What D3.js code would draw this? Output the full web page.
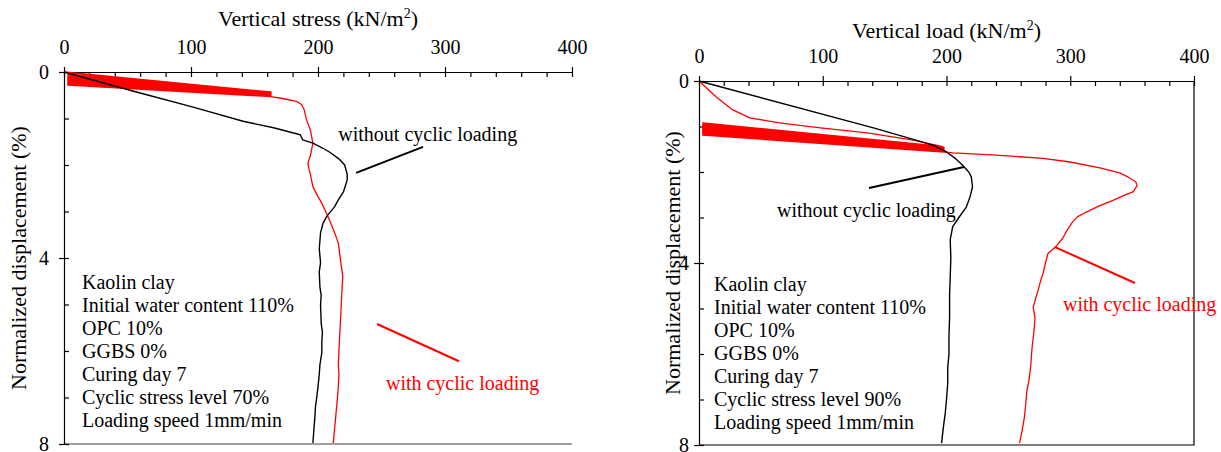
<!DOCTYPE html>
<html>
<head>
<meta charset="utf-8">
<script src="https://cdn.jsdelivr.net/npm/d3@7"></script>
<style>
    body { margin: 0; background: #fff; }
    svg text { font-family: "Liberation Serif", "Times New Roman", serif; font-size: 20px; fill: #000; }
    svg text.axis-title { font-size: 22px; }
</style>
</head>
<body>
<svg id="chart" width="1221" height="452"></svg>
<script>
// Axis ticks (shared by both panels)
const xMajor = [0, 100, 200, 300, 400];
const xMinor = [0, 20, 40, 60, 80, 100, 120, 140, 160, 180, 200, 220, 240, 260, 280, 300, 320, 340, 360, 380, 400];
const yMajor = [0, 4, 8];
const yMinor = [0, 1, 2, 3, 4, 5, 6, 7, 8];

const notesLeft = ["Kaolin clay", "Initial water content 110%", "OPC 10%", "GGBS 0%",
    "Curing day 7", "Cyclic stress level 70%", "Loading speed 1mm/min"];
const notesRight = ["Kaolin clay", "Initial water content 110%", "OPC 10%", "GGBS 0%",
    "Curing day 7", "Cyclic stress level 90%", "Loading speed 1mm/min"];

// Left panel: [stress, displacement]
const leftWithout = [[0, 0], [20, 0.15], [57, 0.43], [101, 0.75], [141, 1.06], [165, 1.2], [186, 1.35],
    [188, 1.46], [196, 1.53], [204, 1.64], [209, 1.72], [217, 1.88], [221, 2.0], [223, 2.2], [223, 2.32],
    [220, 2.58], [216, 2.75], [213, 2.9], [207, 3.1], [204, 3.25], [202, 3.46], [201, 3.8], [202, 4.1],
    [201, 4.3], [201.5, 4.62], [202.5, 4.8], [202, 5.0], [202.5, 5.4], [203.5, 5.6], [203, 5.8],
    [203, 6.04], [201.5, 6.3], [201, 6.5], [200, 6.77], [199, 7.0], [198, 7.2], [197.5, 7.45],
    [197, 7.6], [196, 7.98]];
const leftWithFirst = [[0, 0], [163, 0.43]];
const leftPeakStress = 163;
const leftTroughStress = 3;
const leftPeaks = [0.44, 0.445, 0.45, 0.455, 0.46, 0.465, 0.47, 0.475, 0.48, 0.485, 0.49,
    0.495, 0.5, 0.505, 0.51, 0.513, 0.516, 0.52, 0.525, 0.53];
const leftTroughs = [0.02, 0.05, 0.08, 0.1, 0.12, 0.14, 0.155, 0.17, 0.18, 0.19, 0.2,
    0.21, 0.22, 0.23, 0.24, 0.25, 0.26, 0.27, 0.28, 0.28];
const leftWithTail = [[163, 0.53], [172, 0.57], [183, 0.63], [187, 0.7], [189, 0.8], [191, 1.03],
    [194, 1.25], [195, 1.39], [196, 1.53], [194, 1.8], [192, 1.96], [193, 2.1], [194, 2.2], [196, 2.47],
    [200, 2.68], [203, 2.82], [206, 3.0], [209, 3.18], [213, 3.45], [216, 3.68], [217, 3.9], [218, 4.1],
    [219.5, 4.4], [219, 4.62], [218.5, 4.9], [218, 5.2], [217.5, 5.45], [217, 5.7], [216.5, 6.0],
    [216, 6.3], [216.5, 6.5], [216, 6.77], [215, 7.1], [214, 7.4], [213, 7.7], [212, 7.98]];

// Right panel: [load, displacement]
const rightWithout = [[0, 0], [141, 1.03], [178, 1.32], [190, 1.42], [200, 1.56], [207, 1.7],
    [213, 1.85], [218, 2.0], [220, 2.1], [221, 2.33], [219, 2.55], [216, 2.77], [210, 3.0],
    [205, 3.2], [203, 3.49], [203.5, 3.9], [203, 4.3], [202.5, 4.7], [202.5, 5.18], [202, 5.6],
    [202, 6.0], [201, 6.3], [201, 6.64], [200, 7.0], [199, 7.3], [197.5, 7.6], [196, 7.96]];
const rightWithFirst = [[0, 0], [14, 0.35], [27, 0.63], [41, 0.81], [65, 0.92], [98, 1.03],
    [136, 1.14], [173, 1.3], [197, 1.44]];
const rightPeakLoad = 198;
const rightTroughLoad = 3;
const rightPeaks = [1.46, 1.47, 1.475, 1.48, 1.485, 1.49, 1.495, 1.5, 1.505, 1.51, 1.515,
    1.52, 1.525, 1.53, 1.535, 1.54, 1.545, 1.55, 1.555, 1.56];
const rightTroughs = [0.92, 0.95, 0.97, 0.99, 1.01, 1.03, 1.04, 1.05, 1.06, 1.07, 1.08,
    1.09, 1.1, 1.11, 1.12, 1.13, 1.14, 1.15, 1.17, 1.19];
const rightWithTail = [[198, 1.56], [205, 1.58], [240, 1.63], [278, 1.7], [300, 1.78], [324, 1.91],
    [340, 2.02], [346, 2.1], [353, 2.22], [354, 2.3], [351, 2.43], [343, 2.52], [335, 2.62],
    [323, 2.75], [313, 2.88], [306, 2.98], [302, 3.09], [297, 3.3], [294, 3.45], [288, 3.65],
    [282, 3.79], [280, 4.0], [278, 4.23], [276, 4.4], [274, 4.6], [270, 4.97], [271.5, 5.2],
    [271, 5.41], [269, 5.9], [268, 6.29], [266.5, 6.6], [265, 6.8], [264, 7.1], [263, 7.38],
    [261, 7.7], [259, 7.96]];

const svg = d3.select("#chart");

// Build the cyclic path: first loading, then unload/reload for every cycle
function cyclePath(first, peakX, troughX, peaks, troughs, tail) {
    const pts = first.slice();
    troughs.forEach((t, i) => {
        pts.push([troughX, t]);
        pts.push([peakX, peaks[i]]);
    });
    return pts.concat(tail);
}

function drawPanel(p) {
    const x = d3.scaleLinear().domain([0, 400]).range([p.x0, p.x1]);
    const y = d3.scaleLinear().domain([0, 8]).range([p.y0, p.y1]);
    const g = svg.append("g");

    // Frame on the far sides
    if (p.box) {
        g.append("path")
            .attr("d", `M${p.x1},${p.y0}V${p.y1}H${p.x0}`)
            .attr("fill", "none").attr("stroke", "#000").attr("stroke-width", 1.2);
    } else {
        g.append("line")
            .attr("x1", p.x0).attr("x2", p.x1).attr("y1", p.y1).attr("y2", p.y1)
            .attr("stroke", "#808080").attr("stroke-width", 1.5);
    }

    // Top axis: labelled ticks stick out, all ticks also point in
    g.append("g").attr("transform", `translate(0,${p.y0})`)
        .call(d3.axisTop(x).tickValues(xMajor).tickSize(5).tickSizeOuter(0).tickPadding(13));
    g.append("g").attr("transform", `translate(0,${p.y0})`)
        .call(d3.axisTop(x).tickValues(xMinor).tickSize(-5).tickSizeOuter(0).tickFormat(""))
        .call(a => a.select(".domain").remove());

    g.append("g").attr("transform", `translate(${p.x0},0)`)
        .call(d3.axisLeft(y).tickValues(yMajor).tickSize(5).tickSizeOuter(0).tickPadding(p.yPad));
    g.append("g").attr("transform", `translate(${p.x0},0)`)
        .call(d3.axisLeft(y).tickValues(yMinor).tickSize(-5).tickSizeOuter(0).tickFormat(""))
        .call(a => a.select(".domain").remove());

    g.selectAll(".tick line, .domain").attr("stroke", "#000").attr("stroke-width", 1.2);

    // Titles
    const title = g.append("text")
        .attr("class", "axis-title")
        .attr("x", (p.x0 + p.x1) / 2).attr("y", p.titleY)
        .attr("text-anchor", "middle");
    title.append("tspan").text(p.title + " (kN/m");
    title.append("tspan").attr("dy", -8).style("font-size", "14px").text("2");
    title.append("tspan").attr("dy", 8).text(")");

    g.append("text")
        .attr("class", "axis-title")
        .attr("transform", `translate(${p.yLabelX},${(p.y0 + p.y1) / 2}) rotate(-90)`)
        .attr("dy", "0.35em")
        .attr("text-anchor", "middle")
        .text("Normalized displacement (%)");

    // Curves
    const line = d3.line().x(d => x(d[0])).y(d => y(d[1]));
    g.append("path").datum(p.withPts)
        .attr("d", line).attr("fill", "none")
        .attr("stroke", "#ff0000").attr("stroke-width", 1.3).attr("stroke-linejoin", "round");
    g.append("path").datum(p.withoutPts)
        .attr("d", line).attr("fill", "none")
        .attr("stroke", "#000").attr("stroke-width", 1.4).attr("stroke-linejoin", "round");

    // Notes block
    g.append("g").selectAll("text").data(p.notes).join("text")
        .attr("x", p.x0 + p.noteDx)
        .attr("y", (d, i) => p.noteY + i * 23)
        .text(d => d);

    // Labels with leader lines
    p.labels.forEach(l => {
        g.append("line")
            .attr("x1", x(l.from[0])).attr("y1", y(l.from[1]))
            .attr("x2", x(l.to[0])).attr("y2", y(l.to[1]))
            .attr("stroke", l.color).attr("stroke-width", 2);
        g.append("text")
            .attr("x", x(l.at[0])).attr("y", y(l.at[1]))
            .style("fill", l.color)
            .text(l.text);
    });
}

drawPanel({
    x0: 64, x1: 572, y0: 72, y1: 444, box: false,
    title: "Vertical stress", titleY: 26, yLabelX: 18, yPad: 10,
    withoutPts: leftWithout,
    withPts: cyclePath(leftWithFirst, leftPeakStress, leftTroughStress, leftPeaks, leftTroughs, leftWithTail),
    notes: notesLeft, noteDx: 18, noteY: 289,
    labels: [
        { text: "without cyclic loading", color: "#000", at: [216, 1.48], from: [230, 2.17], to: [282.7, 1.61] },
        { text: "with cyclic loading", color: "#ff0000", at: [253.5, 6.84], from: [246.5, 5.42], to: [311, 6.22] }
    ]
});

drawPanel({
    x0: 699, x1: 1194, y0: 81, y1: 445, box: true,
    title: "Vertical load", titleY: 38, yLabelX: 672, yPad: 5,
    withoutPts: rightWithout,
    withPts: cyclePath(rightWithFirst, rightPeakLoad, rightTroughLoad, rightPeaks, rightTroughs, rightWithTail),
    notes: notesRight, noteDx: 15, noteY: 291,
    labels: [
        { text: "without cyclic loading", color: "#000", at: [63, 2.99], from: [137.4, 2.35], to: [214.1, 1.89] },
        { text: "with cyclic loading", color: "#ff0000", at: [294.1, 5.05], from: [287.7, 3.65], to: [352.3, 4.44] }
    ]
});
</script>
</body>
</html>
